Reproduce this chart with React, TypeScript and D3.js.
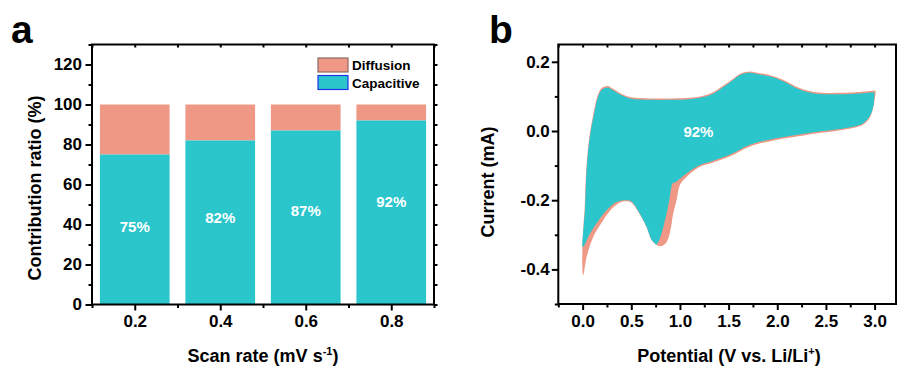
import React, { useEffect, useRef } from 'react';
import * as d3 from 'd3';

// panel a: contribution ratios
const scanRates = [0.2, 0.4, 0.6, 0.8];
const capacitive = [75, 82, 87, 92];
const barLabels = ['75%', '82%', '87%', '92%'];
const labelLevel = [38.7, 43.2, 46.7, 51.2]; // where the % text sits (in %)

// panel b: CV at 0.8 mV/s, [V, mA]
const totalCathodic: [number, number][] = [
  [3.01, 0.106], [2.99, 0.072], [2.97, 0.051], [2.94, 0.034], [2.88, 0.018], [2.8, 0.01],
  [2.6, 0.0], [2.4, -0.007], [2.23, -0.0145], [1.99, -0.026], [1.72, -0.045], [1.51, -0.074],
  [1.31, -0.094], [1.2, -0.104], [1.07, -0.132], [1.0, -0.155], [0.965, -0.2], [0.93, -0.239],
  [0.9, -0.29], [0.86, -0.322], [0.8, -0.333], [0.75, -0.327], [0.71, -0.316], [0.66, -0.28],
  [0.59, -0.242], [0.5, -0.207], [0.45, -0.203], [0.383, -0.207], [0.28, -0.231], [0.195, -0.265],
  [0.109, -0.306], [0.041, -0.364], [0.006, -0.417],
];
const totalAnodic: [number, number][] = [
  [-0.002, -0.4], [-0.002, -0.335], [0.009, -0.27], [0.02, -0.229], [0.037, -0.113], [0.07, -0.016],
  [0.12, 0.063], [0.155, 0.103], [0.195, 0.124], [0.26, 0.13], [0.3, 0.124], [0.383, 0.11],
  [0.486, 0.098], [0.7, 0.094], [0.93, 0.094], [1.1, 0.096], [1.24, 0.102], [1.34, 0.112],
  [1.45, 0.132], [1.55, 0.152], [1.63, 0.167], [1.72, 0.172], [1.82, 0.167], [1.92, 0.162],
  [2.06, 0.148], [2.23, 0.124], [2.4, 0.112], [2.74, 0.111], [3.01, 0.117],
];
const capCathodic: [number, number][] = [
  [3.0, 0.11], [2.99, 0.076], [2.97, 0.055], [2.94, 0.038], [2.88, 0.022], [2.8, 0.014],
  [2.6, 0.004], [2.4, -0.003], [2.23, -0.01], [1.99, -0.021], [1.72, -0.04], [1.51, -0.069],
  [1.31, -0.089], [1.2, -0.099], [1.07, -0.122], [1.0, -0.138], [0.95, -0.149], [0.925, -0.151],
  [0.915, -0.158], [0.89, -0.2], [0.862, -0.239], [0.81, -0.297], [0.775, -0.322], [0.755, -0.328],
  [0.735, -0.322], [0.708, -0.314], [0.657, -0.277], [0.588, -0.239], [0.5, -0.203], [0.45, -0.2],
  [0.349, -0.205], [0.246, -0.229], [0.178, -0.253], [0.075, -0.297], [0.006, -0.335],
];
const capAnodic: [number, number][] = [
  [0.0, -0.335], [0.012, -0.27], [0.024, -0.229], [0.041, -0.113], [0.075, -0.016], [0.126, 0.061],
  [0.16, 0.1], [0.2, 0.12], [0.263, 0.126], [0.3, 0.12], [0.383, 0.106], [0.486, 0.094],
  [0.7, 0.09], [0.93, 0.09], [1.1, 0.092], [1.24, 0.098], [1.34, 0.108], [1.45, 0.128],
  [1.55, 0.148], [1.63, 0.163], [1.72, 0.168], [1.82, 0.163], [1.92, 0.158], [2.06, 0.144],
  [2.23, 0.12], [2.4, 0.108], [2.74, 0.107], [3.0, 0.112],
];
const cvLabel = '92%';

const TEAL = '#2ac6cc';
const SALMON = '#f09886';
const FONT = '"Liberation Sans", Arial, Helvetica, sans-serif';

const App = () => {
  const ref = useRef<SVGSVGElement | null>(null);

  useEffect(() => {
    document.body.style.margin = '0';
    const svg = d3.select(ref.current);
    svg.selectAll('*').remove();

    const styleAxis = (g: any, fontSize = 17) => {
      g.select('.domain').remove();
      g.selectAll('line').attr('stroke', '#000').attr('stroke-width', 2);
      g.selectAll('text')
        .attr('fill', '#000')
        .style('font-family', FONT)
        .style('font-weight', 'bold')
        .style('font-size', `${fontSize}px`);
    };

    // ---------------- panel a ----------------
    const xa = d3.scaleLinear().domain([0.1, 0.9]).range([92, 434]);
    const ya = d3.scaleLinear().domain([0, 130]).range([304.5, 44.5]);
    const barW = 0.163;
    const a = svg.append('g');

    scanRates.forEach((r, i) => {
      a.append('rect')
        .attr('x', xa(r - barW / 2))
        .attr('width', xa(barW) - xa(0))
        .attr('y', ya(100))
        .attr('height', ya(capacitive[i]) - ya(100))
        .attr('fill', SALMON);
      a.append('rect')
        .attr('x', xa(r - barW / 2))
        .attr('width', xa(barW) - xa(0))
        .attr('y', ya(capacitive[i]))
        .attr('height', ya(0) - ya(capacitive[i]))
        .attr('fill', TEAL);
      a.append('text')
        .attr('x', xa(r))
        .attr('y', ya(labelLevel[i]) + 5)
        .attr('text-anchor', 'middle')
        .attr('fill', '#fff')
        .style('font-family', FONT)
        .style('font-weight', 'bold')
        .style('font-size', '15px')
        .text(barLabels[i]);
    });

    // axes
    a.append('g').attr('transform', 'translate(0,304.5)')
      .call(d3.axisBottom(xa).tickValues(scanRates).tickSize(6).tickPadding(4.5).tickFormat((d: any) => d.toFixed(1)))
      .call(styleAxis);
    a.append('g').attr('transform', 'translate(0,304.5)')
      .call(d3.axisBottom(xa).tickValues([0.1, 0.3, 0.5, 0.7, 0.9]).tickSize(3.5).tickFormat(() => ''))
      .call(styleAxis);
    a.append('g').attr('transform', 'translate(0,44.5)')
      .call(d3.axisTop(xa).tickValues(d3.range(0.1, 0.91, 0.1)).tickSize(-3).tickFormat(() => ''))
      .call(styleAxis);
    a.append('g').attr('transform', 'translate(92,0)')
      .call(d3.axisLeft(ya).tickValues(d3.range(0, 121, 20)).tickSize(6.5).tickPadding(3.5))
      .call(styleAxis);
    a.append('g').attr('transform', 'translate(92,0)')
      .call(d3.axisLeft(ya).tickValues(d3.range(10, 131, 20)).tickSize(3.5).tickFormat(() => ''))
      .call(styleAxis);
    a.append('g').attr('transform', 'translate(434,0)')
      .call(d3.axisRight(ya).tickValues(d3.range(0, 131, 10)).tickSize(3.5).tickFormat(() => ''))
      .call(styleAxis);
    a.append('rect')
      .attr('x', 92).attr('y', 44.5).attr('width', 342).attr('height', 260)
      .attr('fill', 'none').attr('stroke', '#000').attr('stroke-width', 2);

    // legend
    const legend = [
      { name: 'Diffusion', fill: SALMON, stroke: '#8a6a66' },
      { name: 'Capacitive', fill: TEAL, stroke: '#2233ee' },
    ];
    legend.forEach((l, i) => {
      a.append('rect').attr('x', 318).attr('y', 58 + i * 17.5).attr('width', 30).attr('height', 14)
        .attr('fill', l.fill).attr('stroke', l.stroke).attr('stroke-width', 1.2);
      a.append('text').attr('x', 352).attr('y', 70 + i * 17.5)
        .style('font-family', FONT).style('font-weight', 'bold').style('font-size', '13.5px')
        .text(l.name);
    });

    a.append('text').attr('x', 11).attr('y', 43)
      .style('font-family', FONT).style('font-weight', 'bold').style('font-size', '39px').text('a');
    a.append('text').attr('transform', 'translate(41,188) rotate(-90)').attr('text-anchor', 'middle')
      .style('font-family', FONT).style('font-weight', 'bold').style('font-size', '18px')
      .text('Contribution ratio (%)');
    const xt = a.append('text').attr('x', 263).attr('y', 362).attr('text-anchor', 'middle')
      .style('font-family', FONT).style('font-weight', 'bold').style('font-size', '18px');
    xt.append('tspan').text('Scan rate (mV s');
    xt.append('tspan').attr('dy', -7).style('font-size', '11px').text('-1');
    xt.append('tspan').attr('dy', 7).text(')');

    // ---------------- panel b ----------------
    const xb = d3.scaleLinear().domain([-0.25, 3.22]).range([558.3, 896]);
    const yb = d3.scaleLinear().domain([-0.5, 0.25]).range([304, 44.5]);
    const b = svg.append('g');
    const line = d3.line<[number, number]>()
      .x(d => xb(d[0])).y(d => yb(d[1]))
      .curve(d3.curveCatmullRom.alpha(0.5));

    b.append('path').attr('d', line([...totalCathodic, ...totalAnodic]) + 'Z').attr('fill', SALMON);
    b.append('path').attr('d', line([...capCathodic, ...capAnodic]) + 'Z').attr('fill', TEAL);
    b.append('text').attr('x', xb(1.19)).attr('y', yb(-0.016))
      .attr('text-anchor', 'middle').attr('fill', '#fff')
      .style('font-family', FONT).style('font-weight', 'bold').style('font-size', '15px')
      .text(cvLabel);

    b.append('g').attr('transform', 'translate(0,304)')
      .call(d3.axisBottom(xb).tickValues(d3.range(0, 3.01, 0.5)).tickSize(6).tickPadding(4.5).tickFormat((d: any) => d.toFixed(1)))
      .call(styleAxis);
    b.append('g').attr('transform', 'translate(0,304)')
      .call(d3.axisBottom(xb).tickValues(d3.range(-0.25, 3.0, 0.5)).tickSize(3.5).tickFormat(() => ''))
      .call(styleAxis);
    b.append('g').attr('transform', 'translate(0,44.5)')
      .call(d3.axisTop(xb).tickValues(d3.range(-0.25, 3.1, 0.25)).tickSize(-3).tickFormat(() => ''))
      .call(styleAxis);
    b.append('g').attr('transform', 'translate(558.3,0)')
      .call(d3.axisLeft(yb).tickValues([-0.4, -0.2, 0, 0.2]).tickSize(6.5).tickPadding(2).tickFormat((d: any) => d.toFixed(1)))
      .call(styleAxis);
    b.append('g').attr('transform', 'translate(558.3,0)')
      .call(d3.axisLeft(yb).tickValues([-0.5, -0.3, -0.1, 0.1]).tickSize(3.5).tickFormat(() => ''))
      .call(styleAxis);
    b.append('rect')
      .attr('x', 558.3).attr('y', 44.5).attr('width', 896 - 558.3).attr('height', 304 - 44.5)
      .attr('fill', 'none').attr('stroke', '#000').attr('stroke-width', 2);

    b.append('text').attr('x', 489).attr('y', 43)
      .style('font-family', FONT).style('font-weight', 'bold').style('font-size', '39px').text('b');
    b.append('text').attr('transform', 'translate(494,182) rotate(-90)').attr('text-anchor', 'middle')
      .style('font-family', FONT).style('font-weight', 'bold').style('font-size', '18px')
      .text('Current (mA)');
    const xtb = b.append('text').attr('x', 729).attr('y', 362).attr('text-anchor', 'middle')
      .style('font-family', FONT).style('font-weight', 'bold').style('font-size', '18px');
    xtb.append('tspan').text('Potential (V vs. Li/Li');
    xtb.append('tspan').attr('dy', -7).style('font-size', '11px').text('+');
    xtb.append('tspan').attr('dy', 7).text(')');
  }, []);

  return (
    <svg ref={ref} width={901} height={369} style={{ display: 'block', background: '#fff' }} />
  );
};

export default App;
